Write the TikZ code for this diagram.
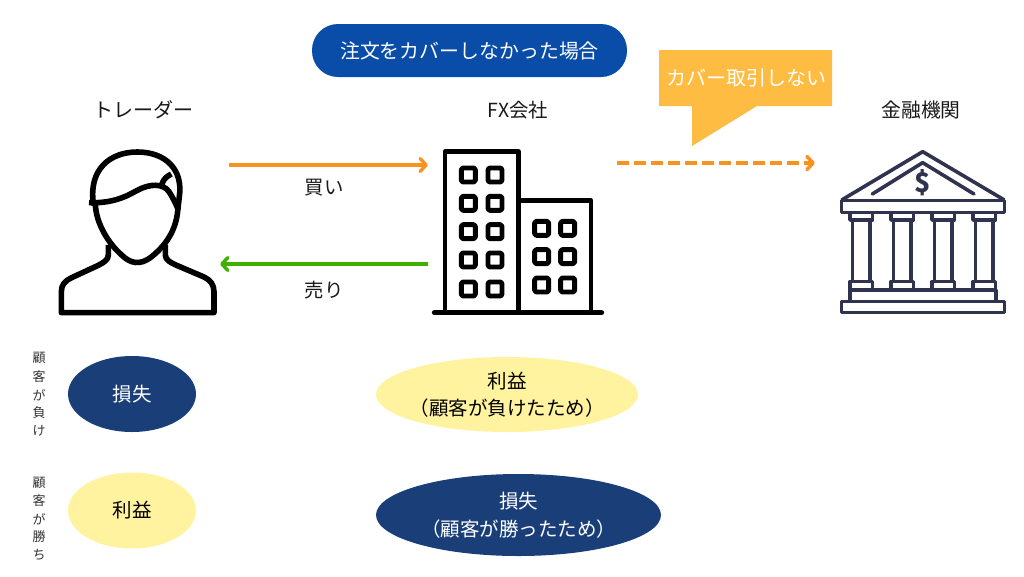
\documentclass[tikz,border=0pt]{standalone}
\usepackage{fontspec}
\setmainfont{Noto Sans CJK JP}
\usetikzlibrary{arrows.meta,shapes.geometric}
\definecolor{navy}{HTML}{1A3F78}
\definecolor{pill}{HTML}{0A4DA8}
\definecolor{paleyellow}{HTML}{FFF3A0}
\definecolor{amber}{HTML}{FFBC42}
\definecolor{orangeline}{HTML}{F7931E}
\definecolor{greenline}{HTML}{3EB000}
\definecolor{bankink}{HTML}{2F3350}
\tikzset{
  x=1pt,y=-1pt,
  label/.style={font=\fontsize{19.4}{22}\selectfont,inner sep=0pt,text=black!90},
  side/.style={font=\fontsize{13}{13}\selectfont,inner sep=0pt,text=black!80},
  oval/.style={ellipse,inner sep=0pt},
  ovaltext/.style={inner sep=0pt,align=center,font=\fontsize{19.5}{27.5}\selectfont},
  navyoval/.style={oval,fill=navy},
  yellowoval/.style={oval,fill=paleyellow},
  flow/.style={line width=3.2pt,-{Straight Barb[length=6pt,width=13pt,line width=3.4pt,round]}},
  iconbox/.style={inner sep=0pt,draw=none},
  icon/.style={x=0.3333pt,y=-0.3333pt,line join=round},
  personline/.style={draw=black,line width=5.6pt},
  buildline/.style={draw=black,line width=4.9pt},
  winbox/.style={draw=black,line width=4.9pt,rounded corners=1.6pt},
  bankline/.style={draw=bankink,line width=3.6pt},
}
\begin{document}
\begin{tikzpicture}
\useasboundingbox (0,0) rectangle (1024,576);
\fill[white] (0,0) rectangle (1024,576);

% title
\node[fill=pill,rounded corners=26pt,minimum width=315pt,minimum height=53pt,inner sep=0pt,text=white,font=\fontsize{19.9}{22}\selectfont] (title) at (469.5,50.5) {注文をカバーしなかった場合};

% headers
\node[label,font=\fontsize{20}{22}\selectfont] (h1) at (143,110) {トレーダー};
\node[label] (h2) at (518,110) {FX会社};
\node[label,font=\fontsize{19.8}{22}\selectfont] (h3) at (921,110) {金融機関};

% callout
\fill[amber] (659,50) -- (832,50) -- (832,106) -- (757,106) -- (692,146) -- (692,106) -- (659,106) -- cycle;
\node[text=white,inner sep=0pt,font=\fontsize{20}{22}\selectfont] (callout) at (746.5,78) {カバー取引しない};

% person
\begin{scope}[shift={(40,140)},icon]
\path[personline,line cap=round]
  (160,190) .. controls (146,90) and (208,36) .. (292,36)
  .. controls (378,36) and (430,90) .. (418,170) -- (414,205);
\path[personline,line cap=butt]
  (147,188) .. controls (210,190) and (250,175) .. (290,152)
  .. controls (330,130) and (370,130) .. (387,155)
  .. controls (397,170) and (407,190) .. (414,207);
\path[personline] (366,132) .. controls (370,117) and (382,108) .. (394,102);
\path[personline] (166,192) .. controls (168,250) and (205,310) .. (245,345)
  .. controls (270,370) and (300,378) .. (335,350)
  .. controls (385,310) and (412,260) .. (414,200);
\path[personline] (205,315) -- (205,345) .. controls (205,360) and (190,368) .. (175,376)
  -- (95,413) .. controls (75,422) and (64,435) .. (64,455) -- (64,518) -- (522,518) -- (522,455)
  .. controls (522,435) and (512,420) .. (492,411) -- (410,376)
  .. controls (392,368) and (376,360) .. (376,345) -- (376,315);
\end{scope}
\node[iconbox,minimum width=158pt,minimum height=165pt] (trader) at (137,232.5) {};

% building
\begin{scope}[shift={(425,140)},icon]
\path[buildline] (60,518) -- (60,35) -- (280,35) -- (280,518);
\path[buildline] (280,182) -- (498,182) -- (498,518);
\path[buildline,line cap=round] (28,518) -- (530,518);
\foreach \cx in {130,210} \foreach \cy in {105,190,275,360,447}
  \path[winbox] (\cx-21,\cy-21) rectangle (\cx+21,\cy+21);
\foreach \cx in {350,428} \foreach \cy in {265,350,435}
  \path[winbox] (\cx-21,\cy-21) rectangle (\cx+21,\cy+21);
\end{scope}
\node[iconbox,minimum width=172pt,minimum height=166pt] (broker) at (518,232) {};

% bank
\begin{scope}[shift={(825,140)},icon]
\path[bankline] (50,180) -- (293,35) -- (538,180);
\path[bankline,line cap=round] (142,162) -- (293,68) -- (447,162);
\path[bankline] (50,182) rectangle (538,218);
\foreach \cx in {109,232,355,478} {
  \path[bankline] (\cx-34,218) rectangle (\cx+34,240);
  \path[bankline] (\cx-26,240) -- (\cx-26,425);
  \path[bankline] (\cx+26,240) -- (\cx+26,425);
  \path[bankline] (\cx-34,425) rectangle (\cx+34,450);
}
\path[bankline] (75,450) rectangle (513,484);
\path[bankline] (50,484) rectangle (538,517);
\end{scope}
\node[text=bankink,inner sep=0pt,font=\fontsize{27}{27}\selectfont\bfseries] (dollar) at (922.5,183) {\$};
\node[iconbox,minimum width=166pt,minimum height=166pt] (bank) at (922,232) {};

% connectors
\draw[flow,orangeline,shorten <=13pt,shorten >=4pt] (trader.east |- 0,165) -- (broker.west |- 0,165);
\draw[flow,greenline,shorten >=4pt,shorten <=4pt] (broker.west |- 0,264) -- (trader.east |- 0,264);
\draw[line width=4pt,orangeline,dash pattern=on 12pt off 5pt,shorten >=24pt,-{Straight Barb[length=6pt,width=13pt,line width=3.6pt,round]}]
  (617,163) coordinate (coverS) -- (bank.west |- 0,163);

\node[label] (buy) at (324,188) {買い};
\node[label] (sell) at (324,290) {売り};

% side labels
\node[side] (a1) at (39,358) {顧};
\node[side] (a2) at (39,377) {客};
\node[side] (a3) at (39,395) {が};
\node[side] (a4) at (39,413) {負};
\node[side] (a5) at (39,431) {け};
\node[side] (b1) at (39,483) {顧};
\node[side] (b2) at (39,501) {客};
\node[side] (b3) at (39,519) {が};
\node[side] (b4) at (39,537) {勝};
\node[side] (b5) at (39,555) {ち};

% ovals
\node[navyoval,minimum width=128pt,minimum height=76pt] (o1) at (132,394) {};
\node[ovaltext,text=white] (t1) at (o1.center) {損失};
\node[yellowoval,minimum width=128pt,minimum height=76pt] (o2) at (132,510.5) {};
\node[ovaltext,text=black] (t2) at (o2.center) {利益};
\node[yellowoval,minimum width=262pt,minimum height=75pt] (o3) at (507,394.5) {};
\node[ovaltext,text=black] (t3) at (o3.center) {利益\\（顧客が負けたため）};
\node[navyoval,minimum width=285pt,minimum height=82pt] (o4) at (518.5,515) {};
\node[ovaltext,text=white] (t4) at (o4.center) {損失\\（顧客が勝ったため）};
\end{tikzpicture}
\end{document}
